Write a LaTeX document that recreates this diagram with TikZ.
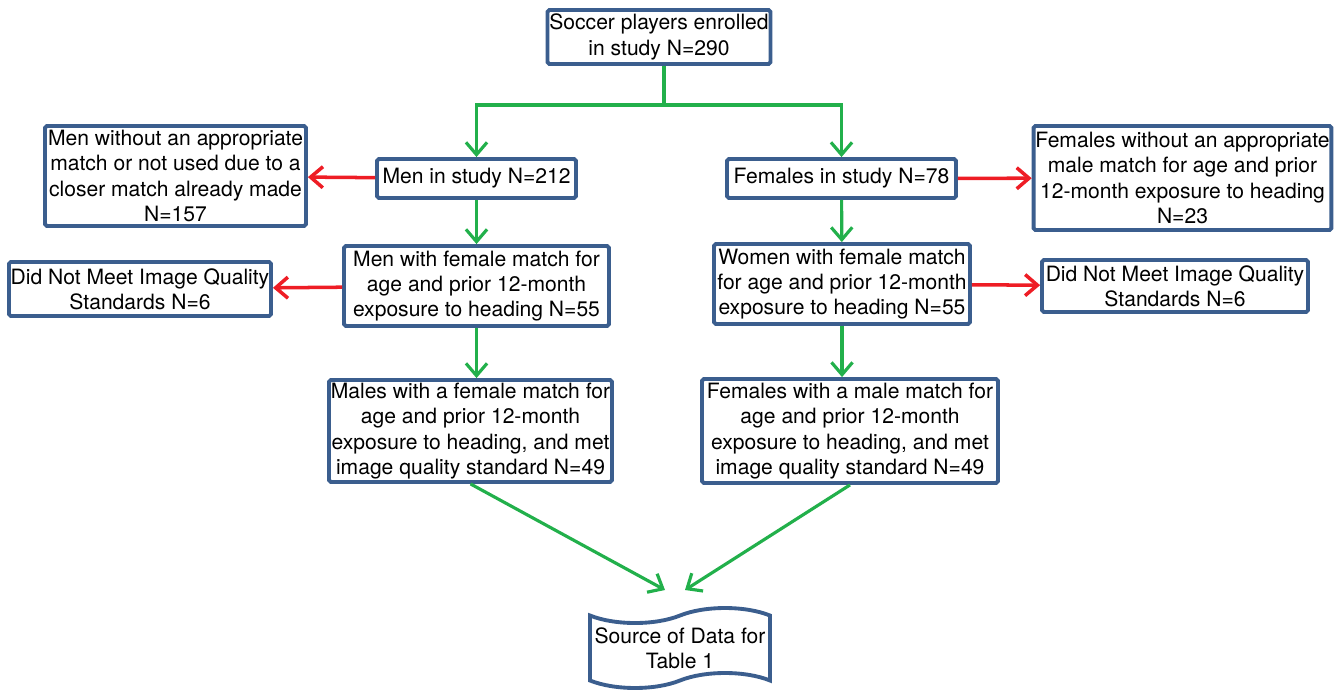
\documentclass[tikz,border=0pt]{standalone}
\usepackage{fontspec}
\setmainfont{TeX Gyre Heros}
\usetikzlibrary{arrows.meta,shapes.symbols}
\definecolor{boxblue}{HTML}{3B5E8E}
\definecolor{flowgreen}{HTML}{22B04B}
\definecolor{dropred}{HTML}{EE1D25}
\begin{document}
\begin{tikzpicture}[x=0.02cm, y=-0.02cm,
  >={Straight Barb[length=7pt,width=12pt]},
  box/.style={draw=boxblue, line width=2.2pt, rectangle, rounded corners=1pt, fill=white,
    align=center, inner sep=1pt, font=\fontsize{12}{14.4}\selectfont},
  keep/.style={draw=flowgreen, line width=1.8pt},
  drop/.style={draw=dropred, line width=2pt}]
\useasboundingbox (0,0) rectangle (1341,696);
\node[box, minimum width=4.46cm, minimum height=1.08cm] (a) at (659,37) {Soccer players enrolled\\in study N=290};
\node[box, minimum width=3.98cm, minimum height=0.78cm] (b) at (476.5,178.5) {Men in study N=212};
\node[box, minimum width=5.22cm, minimum height=2.0cm] (c) at (175.5,176) {Men without an appropriate\\match or not used due to a\\closer match already made\\N=157};
\node[box, minimum width=5.3cm, minimum height=1.6cm] (d) at (476.5,286) {Men with female match for\\age and prior 12-month\\exposure to heading N=55};
\node[box, minimum width=5.24cm, minimum height=1.08cm] (e) at (140,289) {Did Not Meet Image Quality\\Standards N=6};
\node[box, minimum width=5.66cm, minimum height=2.04cm] (f) at (470.5,431) {Males with a female match for\\age and prior 12-month\\exposure to heading, and met\\image quality standard N=49};
\node[box, minimum width=4.58cm, minimum height=0.78cm] (g) at (841.5,178.5) {Females in study N=78};
\node[box, minimum width=5.94cm, minimum height=2.08cm] (h) at (1182.5,178) {Females without an appropriate\\male match for age and prior\\12-month exposure to heading\\N=23};
\node[box, minimum width=5.12cm, minimum height=1.6cm] (i) at (842,284) {Women with female match\\for age and prior 12-month\\exposure to heading N=55};
\node[box, minimum width=5.32cm, minimum height=1.04cm] (j) at (1175,286) {Did Not Meet Image Quality\\Standards N=6};
\node[box, minimum width=5.92cm, minimum height=2.08cm] (k) at (850,431) {Females with a male match for\\age and prior 12-month\\exposure to heading, and met\\image quality standard N=49};
\node[box, shape=tape, rounded corners=0pt, tape bend height=0.3cm, minimum width=3.6cm, minimum height=1.6cm] (l) at (680,648) {Source of Data for\\Table 1};
\coordinate (split) at (664,105);
\coordinate (inl) at (665,590);
\coordinate (inr) at (685,590);
\draw[keep] (split |- a.south) -- (split);
\draw[keep, ->] (split) -| (b.north);
\draw[keep, ->] (split) -| (g.north);
\draw[keep, ->] (b) -- (d);
\draw[keep, ->] (d.south) -- (d.south |- f.north);
\draw[keep, ->] (g) -- (i);
\draw[keep, ->] (i.south) -- (i.south |- k.north);
\draw[keep, ->] (f.south) -- (inl);
\draw[keep, ->] (k.south) -- (inr);
\draw[drop, ->] (b) -- (c);
\draw[drop, ->] (d) -- (e);
\draw[drop, ->] (g) -- (h);
\draw[drop, ->] (i) -- (j);
\end{tikzpicture}
\end{document}
